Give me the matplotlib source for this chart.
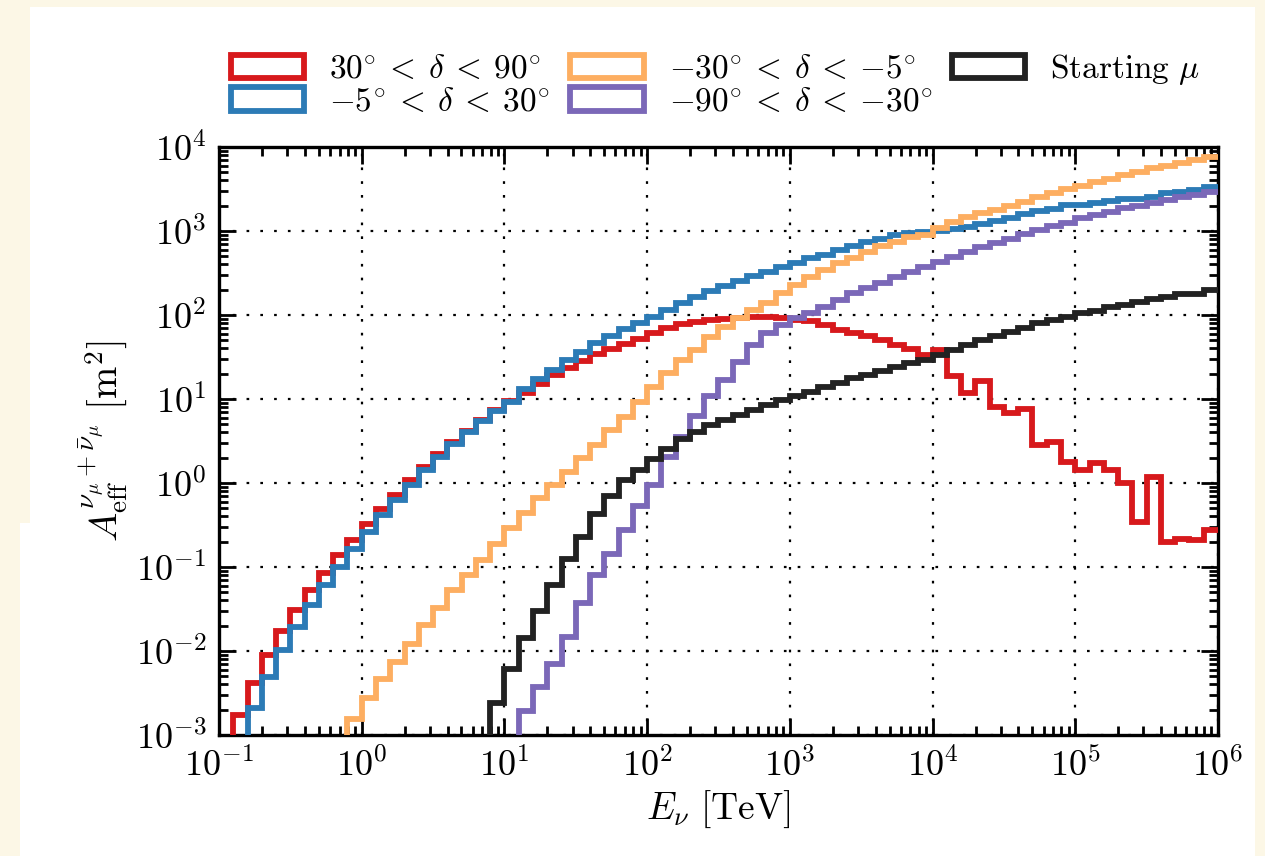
import numpy as np
import matplotlib
matplotlib.use("Agg")
import matplotlib.pyplot as plt
from matplotlib.patches import Patch, Rectangle
from matplotlib.ticker import LogLocator, NullFormatter

# energy bins: 10 per decade from 0.1 TeV to 1e6 TeV
edges = np.logspace(-1, 6, 71)

# log10 of effective area [m^2] per bin (nan = below 1e-3)
nan = np.nan
red_log = [nan, -2.76, -2.38, -2.05, -1.76, -1.51, -1.27, -1.07, -0.86, -0.68,
           -0.49, -0.31, -0.14, 0.03, 0.19, 0.35, 0.49, 0.62, 0.75, 0.87,
           0.98, 1.07, 1.18, 1.28, 1.37, 1.45, 1.53, 1.60, 1.66, 1.72,
           1.79, 1.85, 1.89, 1.92, 1.94, 1.95, 1.965, 1.975, 1.975, 1.96,
           1.94, 1.93, 1.885, 1.825, 1.78, 1.75, 1.70, 1.64, 1.59, 1.52,
           1.58, 1.27, 1.07, 1.21, 0.91, 0.83, 0.88, 0.45, 0.49, 0.25,
           0.155, 0.24, 0.155, 0.0, -0.46, 0.075, -0.70, -0.67, -0.68, -0.56]
blue_log = [nan, nan, -2.68, -2.31, -1.99, -1.72, -1.45, -1.21, -1.00, -0.79,
            -0.58, -0.38, -0.20, -0.02, 0.15, 0.31, 0.47, 0.61, 0.74, 0.86,
            0.97, 1.115, 1.235, 1.345, 1.465, 1.565, 1.665, 1.745, 1.83, 1.91,
            1.98, 2.065, 2.145, 2.22, 2.28, 2.34, 2.405, 2.465, 2.515, 2.575,
            2.625, 2.675, 2.72, 2.775, 2.82, 2.87, 2.91, 2.95, 2.975, 2.99,
            3.0, 3.02, 3.05, 3.085, 3.125, 3.16, 3.20, 3.24, 3.265, 3.305,
            3.31, 3.33, 3.36, 3.385, 3.385, 3.405, 3.45, 3.465, 3.49, 3.525]
orange_log = [nan, nan, nan, nan, nan, nan, nan, nan, nan, -2.81,
              -2.56, -2.33, -2.13, -1.92, -1.69, -1.49, -1.27, -1.10, -0.92, -0.73,
              -0.54, -0.36, -0.18, -0.02, 0.135, 0.295, 0.45, 0.63, 0.79, 0.96,
              1.145, 1.305, 1.46, 1.58, 1.74, 1.86, 1.96, 2.06, 2.14, 2.26,
              2.355, 2.455, 2.535, 2.615, 2.675, 2.755, 2.82, 2.87, 2.93, 2.955,
              3.03, 3.11, 3.165, 3.21, 3.25, 3.30, 3.35, 3.40, 3.45, 3.495,
              3.535, 3.585, 3.625, 3.665, 3.705, 3.745, 3.775, 3.805, 3.84, 3.88]
purple_log = [nan] * 21 + [
    -2.72, -2.43, -2.15, -1.83, -1.43, -1.10, -0.84, -0.56, -0.27,
    -0.02, 0.31, 0.55, 0.80, 1.04, 1.225, 1.445, 1.64, 1.78, 1.88,
    1.96, 2.02, 2.10, 2.18, 2.26, 2.32, 2.385, 2.455, 2.51, 2.575,
    2.635, 2.695, 2.755, 2.815, 2.86, 2.91, 2.965, 3.01, 3.06, 3.10,
    3.15, 3.19, 3.23, 3.27, 3.30, 3.335, 3.37, 3.40, 3.43, 3.465]
black_log = [nan] * 19 + [
    -2.62,
    -2.22, -1.85, -1.52, -1.21, -0.91, -0.64, -0.37, -0.16, 0.03, 0.155,
    0.28, 0.40, 0.52, 0.61, 0.69, 0.75, 0.81, 0.875, 0.93, 0.99,
    1.035, 1.085, 1.145, 1.195, 1.245, 1.285, 1.335, 1.385, 1.43, 1.465,
    1.525, 1.585, 1.64, 1.70, 1.75, 1.80, 1.85, 1.90, 1.94, 1.98,
    2.02, 2.05, 2.09, 2.12, 2.16, 2.19, 2.22, 2.245, 2.25, 2.30]

labels = [r"$30^{\circ}\:<\:\delta\:<\:90^{\circ}$",
          r"$-5^{\circ}\:<\:\delta\:<\:30^{\circ}$",
          r"$-30^{\circ}\:<\:\delta\:<\:{-5^{\circ}}$",
          r"$-90^{\circ}\:<\:\delta\:<\:{-30^{\circ}}$",
          r"$\mathrm{Starting}\ \mu$"]
colors = ["#d7191c", "#2c7bb6", "#fdae61", "#7b68b8", "#222222"]
series = [red_log, blue_log, orange_log, purple_log, black_log]

plt.rcParams["mathtext.fontset"] = "cm"
plt.rcParams["font.family"] = "serif"
plt.rcParams["font.serif"] = ["cmr10", "DejaVu Serif"]
plt.rcParams["axes.formatter.use_mathtext"] = True

fig = plt.figure(figsize=(12.65, 8.56), dpi=100, facecolor="#fcf7e6")
# white page area of the screenshot
fig.patches.append(Rectangle((30 / 1265, 0), (1255 - 30) / 1265, 1 - 7 / 856,
                             transform=fig.transFigure, facecolor="white",
                             edgecolor="none", zorder=-5))
fig.patches.append(Rectangle((20 / 1265, 0), 12 / 1265, 1 - 523 / 856,
                             transform=fig.transFigure, facecolor="white",
                             edgecolor="none", zorder=-5))

ax = fig.add_axes([219 / 1265, 1 - 735 / 856, 999 / 1265, 588 / 856])
ax.set_facecolor("white")
ax.set_zorder(2)

lw = 4.2
for vals, c in zip(series, colors):
    v = 10.0 ** np.array(vals, dtype=float)
    v = np.where(np.isnan(v), 1e-6, v)
    ax.stairs(v, edges, color=c, lw=lw, baseline=None, zorder=3)

ax.set_xscale("log")
ax.set_yscale("log")
ax.set_xlim(1e-1, 1e6)
ax.set_ylim(1e-3, 1e4)

for axis in (ax.xaxis, ax.yaxis):
    axis.set_major_locator(LogLocator(base=10, numticks=20))
    axis.set_minor_locator(LogLocator(base=10, subs=np.arange(2, 10), numticks=20))
    axis.set_minor_formatter(NullFormatter())

ax.tick_params(which="both", direction="in", top=True, right=True,
               labelsize=26, width=2.0, pad=9)
ax.tick_params(which="major", length=12)
ax.tick_params(which="minor", length=6.5)
for s in ax.spines.values():
    s.set_linewidth(2.4)

ax.grid(True, which="major", ls=(0, (1.2, 5)), color="black", lw=1.6)
ax.set_axisbelow(False)

ax.set_xlabel(r"$E_\nu\ [\mathrm{TeV}]$", fontsize=27, labelpad=4)
ax.set_ylabel(r"$A_{\mathrm{eff}}^{\nu_\mu+\bar{\nu}_\mu}\ [\mathrm{m}^2]$",
              fontsize=28, labelpad=4)

handles = [Patch(facecolor="none", edgecolor=c, lw=lw) for c in colors]
fig.legend(handles, labels, ncol=3, loc="upper left",
           bbox_to_anchor=(231 / 1265, 1 - 52 / 856), frameon=False,
           fontsize=24, handlelength=2.2, handleheight=0.7,
           handletextpad=0.75, columnspacing=0.6, labelspacing=0.1,
           borderaxespad=0, borderpad=0)

fig.savefig("out.png", dpi=100, facecolor=fig.get_facecolor())
